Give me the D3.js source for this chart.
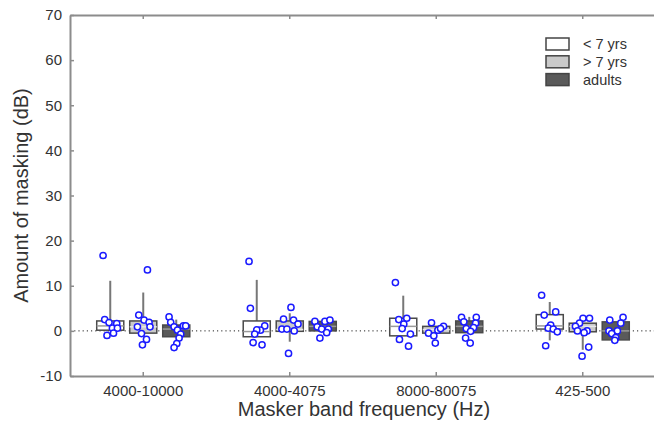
<!DOCTYPE html>
<html>
<head>
<meta charset="utf-8">
<script src="https://cdn.jsdelivr.net/npm/d3@7"></script>
<style>
  body { margin: 0; background: #fff; }
  svg { display: block; font-family: "Liberation Sans", Arial, Helvetica, sans-serif; }
</style>
</head>
<body>
<svg id="chart" width="654" height="423"></svg>
<script>
'use strict'

// categories and series
const categories = ['4000-10000', '4000-4075', '8000-80075', '425-500'];
const series = ['< 7 yrs', '> 7 yrs', 'adults'];
const yTicks = [-10, 0, 10, 20, 30, 40, 50, 60, 70];

// box stats, one row per category: [lo, q1, median, q3, hi]
const boxYoung = [
	[0.15, 0.15, 1.1, 2.2, 11.1],
	[-1.3, -1.3, -0.15, 2.2, 11.3],
	[-1.1, -1.1, 1.0, 2.8, 7.8],
	[-2.1, 0.4, 1.1, 3.6, 6.4]
];
const boxOlder = [
	[-0.5, -0.5, 0.9, 2.2, 8.5],
	[-2.4, -0.1, 0.3, 2.2, 3.9],
	[-0.5, -0.5, 0.3, 1.0, 1.0],
	[-4.2, -0.2, 1.0, 1.7, 1.7]
];
const boxAdults = [
	[-1.3, -1.3, 0.4, 1.3, 2.5],
	[0.0, 0.0, 1.0, 2.1, 2.5],
	[-0.4, -0.4, 1.0, 2.2, 3.1],
	[-2.0, -2.0, 0.0, 2.0, 2.0]
];

// individual listeners: values, and jitter as a fraction of half a box
const ptsYoung = [
	[16.7, 2.5, 1.85, 0.6, 1.6, 0.6, -0.5, -1.0],
	[15.4, 5.0, 1.1, 0.15, 0.2, -0.7, -2.6, -3.1],
	[10.7, 2.5, 2.8, 1.5, 0.5, -0.7, -1.9, -3.4],
	[7.9, 3.5, 4.2, 1.3, 0.6, 0.4, -0.2, -3.3]
];
const jitYoung = [
	[-0.53, -0.41, -0.09, 0.16, 0.48, 0.53, 0.24, -0.24],
	[-0.57, -0.47, 0.59, 0.27, 0.0, -0.15, -0.27, 0.39],
	[-0.58, -0.33, 0.26, 0.04, -0.08, 0.53, -0.28, 0.39],
	[-0.6, -0.41, 0.44, 0.07, -0.11, 0.26, 0.56, -0.3]
];
const ptsOlder = [
	[13.5, 3.5, 2.4, 1.9, 0.9, 0.9, -0.6, -1.9, -3.1],
	[-5.0, 5.2, 2.6, 2.4, 1.5, 0.4, 0.4, 0.0],
	[1.8, 1.0, -0.5, 0.15, 0.5, -1.1, -2.7],
	[2.8, 2.8, 1.7, 1.0, 0.0, 0.0, -0.4, -3.6, -5.6]
];
const jitOlder = [
	[0.31, -0.33, 0.06, 0.43, 0.5, -0.43, -0.13, 0.24, -0.06],
	[-0.09, 0.09, -0.46, 0.28, 0.61, -0.58, -0.21, 0.33],
	[-0.35, 0.54, -0.57, 0.12, 0.32, -0.18, -0.07],
	[0.02, 0.5, -0.24, -0.54, -0.39, 0.32, 0.1, 0.44, -0.05]
];
const ptsAdults = [
	[3.1, 1.9, 0.9, 0.15, -0.7, -1.6, -2.8, -3.7, 1.1, 1.1],
	[2.1, 2.1, 2.4, 0.9, 0.4, 0.4, -0.4, -1.6],
	[3.0, 3.0, 2.0, 1.7, 0.5, 0.7, -0.1, -1.6, -2.7],
	[2.4, 3.0, 1.7, 0.0, 0.0, -0.6, -1.5, -2.1]
];
const jitAdults = [
	[-0.53, -0.41, -0.16, 0.09, 0.33, 0.21, 0.04, -0.16, 0.53, 0.7],
	[-0.58, 0.16, 0.53, -0.41, -0.08, 0.41, 0.29, -0.21],
	[-0.57, 0.52, -0.4, 0.47, -0.22, 0.32, 0.1, -0.27, 0.07],
	[-0.44, 0.54, 0.37, -0.5, 0.12, -0.3, 0.0, -0.07]
];

const boxes = [boxYoung, boxOlder, boxAdults];
const pts = [ptsYoung, ptsOlder, ptsAdults];
const jits = [jitYoung, jitOlder, jitAdults];
const fills = ['#ffffff', '#cacaca', '#5a5a5a'];

const AXIS = '#8c8c8c';
const TEXT = '#333333';

var svg = d3.select('#chart');

var plotLeft = 70, plotRight = 656, plotTop = 15, plotBottom = 376;

var x = d3.scaleBand()
	.domain(categories)
	.range([plotLeft, plotRight]);

var inner = d3.scaleBand()
	.domain(series)
	.range([-49.5, 49.5]);

var boxW = inner.bandwidth() * 0.82;

var jitter = d3.scaleLinear()
	.domain([-1, 1])
	.range([-boxW / 2, boxW / 2]);

var y = d3.scaleLinear()
	.domain([-10, 70])
	.range([plotBottom, plotTop]);

function cx(cat, s) {
	return x(cat) + x.bandwidth() / 2 + inner(s) + inner.bandwidth() / 2;
}

// zero line
svg.append('line')
	.attr('x1', plotLeft).attr('x2', plotRight)
	.attr('y1', y(0)).attr('y2', y(0))
	.attr('stroke', '#222')
	.attr('stroke-width', 1)
	.attr('stroke-dasharray', '1.2,3');

// boxes
series.forEach(function(s, si) {
	categories.forEach(function(cat, ci) {
		var b = boxes[si][ci];
		var c = cx(cat, s);
		var g = svg.append('g');

		g.append('line')
			.attr('x1', c).attr('x2', c)
			.attr('y1', y(b[0])).attr('y2', y(b[4]))
			.attr('stroke', '#777')
			.attr('stroke-width', 2);

		g.append('rect')
			.attr('x', c - boxW / 2)
			.attr('y', y(b[3]))
			.attr('width', boxW)
			.attr('height', y(b[1]) - y(b[3]))
			.attr('fill', fills[si])
			.attr('stroke', '#4a4a4a')
			.attr('stroke-width', 1.5);

		g.append('line')
			.attr('x1', c - boxW / 2).attr('x2', c + boxW / 2)
			.attr('y1', y(b[2])).attr('y2', y(b[2]))
			.attr('stroke', si == 1 ? '#e8e8e8' : '#9a9a9a')
			.attr('stroke-width', 1.5);
	});
});

// points
series.forEach(function(s, si) {
	categories.forEach(function(cat, ci) {
		var c = cx(cat, s);
		svg.append('g')
			.selectAll('circle')
			.data(pts[si][ci])
			.enter()
			.append('circle')
			.attr('cx', function(d, i) { return c + jitter(jits[si][ci][i]); })
			.attr('cy', function(d) { return y(d); })
			.attr('r', 3.1)
			.attr('fill', '#fff')
			.attr('stroke', '#1a1aff')
			.attr('stroke-width', 1.5);
	});
});

// axes
svg.append('g')
	.attr('transform', 'translate(' + plotLeft + ',0)')
	.call(d3.axisLeft(y).tickValues(yTicks).tickFormat(function(d) { return String(d); })
		.tickSizeInner(-4).tickSizeOuter(0).tickPadding(8))
	.call(function(g) {
		g.select('.domain').attr('stroke', AXIS).attr('stroke-width', 2);
		g.selectAll('.tick line').attr('stroke', AXIS).attr('stroke-width', 1.5);
		g.selectAll('.tick text').attr('fill', TEXT).style('font-size', '15px');
	});

svg.append('g')
	.attr('transform', 'translate(0,' + plotBottom + ')')
	.call(d3.axisBottom(x).tickSizeInner(-4).tickSizeOuter(0).tickPadding(9))
	.call(function(g) {
		g.select('.domain').attr('stroke', AXIS).attr('stroke-width', 2);
		g.selectAll('.tick line').attr('stroke', AXIS).attr('stroke-width', 1.5);
		g.selectAll('.tick text').attr('fill', TEXT).style('font-size', '15px');
	});

svg.append('g')
	.attr('transform', 'translate(0,' + plotTop + ')')
	.call(d3.axisTop(x).tickSizeInner(-4).tickSizeOuter(0).tickFormat(''))
	.call(function(g) {
		g.select('.domain').attr('stroke', AXIS).attr('stroke-width', 2);
		g.selectAll('.tick line').attr('stroke', AXIS).attr('stroke-width', 1.5);
	});

// axis titles
svg.append('text')
	.attr('x', (plotLeft + plotRight) / 2 + 1)
	.attr('y', 416)
	.attr('text-anchor', 'middle')
	.attr('fill', TEXT)
	.style('font-size', '20px')
	.text('Masker band frequency (Hz)');

svg.append('text')
	.attr('transform', 'translate(28,' + (plotTop + plotBottom) / 2 + ') rotate(-90)')
	.attr('text-anchor', 'middle')
	.attr('fill', TEXT)
	.style('font-size', '20px')
	.text('Amount of masking (dB)');

// legend
var legend = svg.append('g')
	.selectAll('g')
	.data(series)
	.enter()
	.append('g')
	.attr('transform', function(d, i) { return 'translate(546,' + (44 + i * 17.8) + ')'; });

legend.append('rect')
	.attr('x', 0)
	.attr('y', -6)
	.attr('width', 23)
	.attr('height', 12)
	.attr('fill', function(d, i) { return fills[i]; })
	.attr('stroke', '#444')
	.attr('stroke-width', 1.5);

legend.append('text')
	.attr('x', 37)
	.attr('y', 5)
	.attr('fill', TEXT)
	.style('font-size', '14.5px')
	.text(function(d) { return d; });
</script>
</body>
</html>
